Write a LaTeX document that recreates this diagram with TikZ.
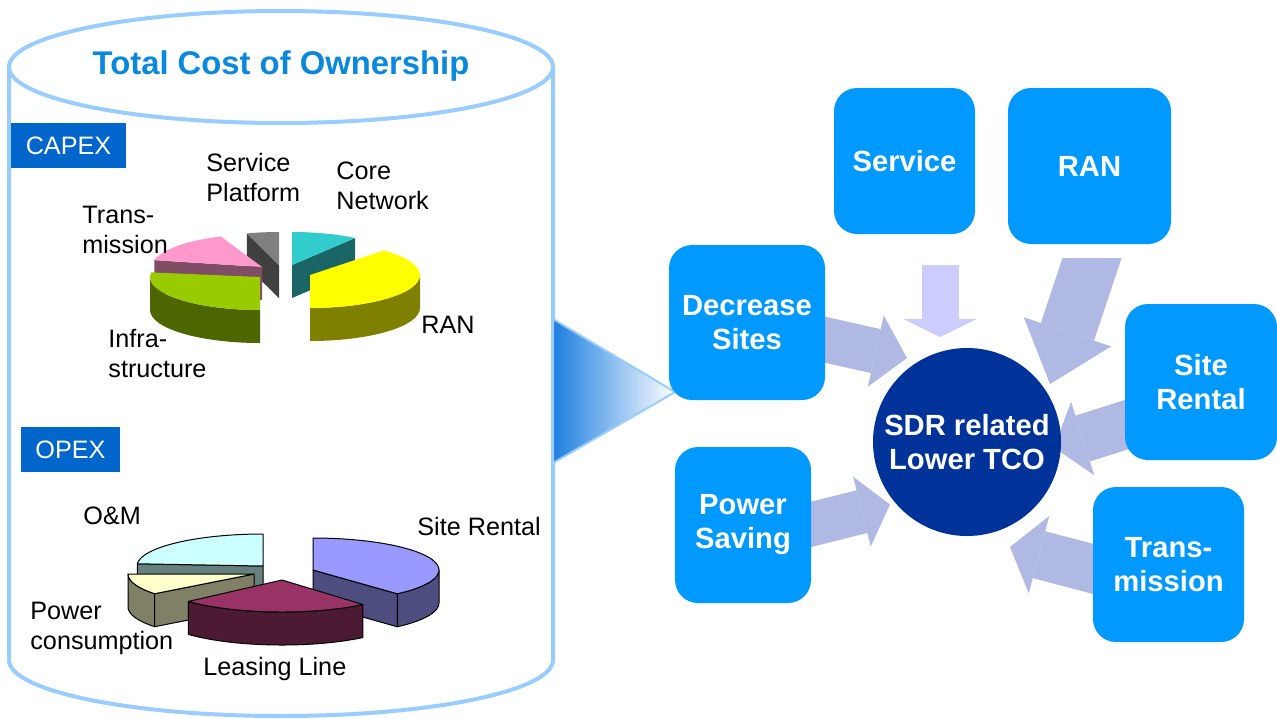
\documentclass[tikz,border=0pt]{standalone}
\usepackage{fontspec}
\setmainfont{Liberation Sans}
\usetikzlibrary{arrows.meta,calc,positioning}

\definecolor{cylline}{HTML}{99CCFF}
\definecolor{titleblue}{HTML}{0A88DD}
\definecolor{tagblue}{HTML}{0066CC}
\definecolor{boxblue}{HTML}{0099FF}
\definecolor{tcoblue}{HTML}{003399}
\definecolor{flowblue}{RGB}{176,184,228}
\definecolor{flowlight}{HTML}{CCCCFF}
\definecolor{shadeblue}{HTML}{1E7FE0}
% pie colours, top and side
\definecolor{svctop}{HTML}{808080}\definecolor{svcside}{HTML}{404040}
\definecolor{coretop}{HTML}{33CCCC}\definecolor{coreside}{HTML}{1A6666}
\definecolor{transtop}{HTML}{FF99CC}\definecolor{transside}{HTML}{804D66}
\definecolor{infratop}{HTML}{99CC00}\definecolor{infraside}{HTML}{4D6600}
\definecolor{rantop}{HTML}{FFFF00}\definecolor{ranside}{HTML}{808000}
\definecolor{omtop}{HTML}{CCFFFF}\definecolor{omside}{HTML}{668080}
\definecolor{powtop}{HTML}{FFFFCC}\definecolor{powside}{HTML}{808066}
\definecolor{sitetop}{HTML}{9999FF}\definecolor{siteside}{HTML}{4D4D80}
\definecolor{leasetop}{HTML}{993366}\definecolor{leaseside}{HTML}{4D1A33}

% 3d pie pieces: size, top face, outer wall, cut face
\newcommand{\piesize}[3]{\def\prx{#1}\def\pry{#2}\def\pdepth{#3}}
\newcommand{\pietop}[5]{\filldraw[fill=#4,#5] (#1) -- ++({\prx*cos(#2)},{\pry*sin(#2)})
  arc[start angle=#2,end angle=#3,x radius=\prx,y radius=\pry] -- cycle;}
\newcommand{\piewall}[5]{\filldraw[fill=#4,#5] ($(#1)+({\prx*cos(#2)},{\pry*sin(#2)})$)
  arc[start angle=#2,end angle=#3,x radius=\prx,y radius=\pry] -- ++(0,-\pdepth)
  arc[start angle=#3,end angle=#2,x radius=\prx,y radius=\pry] -- cycle;}
\newcommand{\pieface}[4]{\filldraw[fill=#3,#4] (#1) -- ++({\prx*cos(#2)},{\pry*sin(#2)})
  -- ++(0,-\pdepth) -- ($(#1)+(0,-\pdepth)$) -- cycle;}

\begin{document}
\begin{tikzpicture}[x=0.5pt, y=0.5pt,
  cyl/.style={draw=cylline, line width=2pt},
  lbl/.style={anchor=base west, align=left, inner sep=0, font=\fontsize{12.6}{15}\selectfont},
  tag/.style={fill=tagblue, text=white, inner sep=0, minimum height=22.5pt, font=\fontsize{12.6}{15}\selectfont},
  cause/.style={fill=boxblue, text=white, rounded corners=11.5pt, align=center, inner sep=0,
    font=\bfseries\fontsize{14.6}{17}\selectfont},
  hub/.style={circle, fill=tcoblue, text=white, minimum size=94pt, inner sep=0, align=center,
    font=\bfseries\fontsize{14.6}{17}\selectfont},
  flow/.style n args={3}{draw=flowblue, line width=#1, -{Triangle[width=#2, length=#3, line width=0pt]}},
  capedge/.style={draw=none},
  opedge/.style={draw=black, line width=0.5pt, line join=round}]

\useasboundingbox (0,0) rectangle (1277,-718);
\fill[white] (0,0) rectangle (1277,-718);

% cylinder
\draw[cyl] (9,-67) -- (9,-660) arc[start angle=180, end angle=360, x radius=272, y radius=56] -- (553,-67);
\draw[cyl] (281,-67) ellipse[x radius=272, y radius=56];
\node[anchor=base, inner sep=0, text=titleblue, font=\bfseries\fontsize{16.4}{19}\selectfont] (title) at (281,-74) {Total Cost of Ownership};

\node[tag, minimum width=57.5pt] (capex) at (68.5,-145.5) {CAPEX};
\node[tag, minimum width=49.5pt] (opex) at (70.5,-449.5) {OPEX};

% CAPEX pie
\piesize{110}{33}{33}
\pieface{279,-265}{107}{svcside}{capedge}
\pietop{279,-265}{90}{107}{svctop}{capedge}
\pieface{292,-265}{55}{coreside}{capedge}
\pietop{292,-265}{55}{90}{coretop}{capedge}
\pieface{262,-267}{168}{transside}{capedge}
\pietop{262,-267}{112}{168}{transtop}{capedge}
\piewall{260,-277}{180}{270}{infraside}{capedge}
\pietop{260,-277}{172}{270}{infratop}{capedge}
\piewall{310,-275}{270}{360}{ranside}{capedge}
\pietop{310,-275}{-90}{48}{rantop}{capedge}

% base anchor of a two line label sits on its last line
\node[lbl] (l-svc) at (206,-201.7) {Service\\Platform};
\node[lbl] (l-core) at (336,-209) {Core\\Network};
\node[lbl] (l-trans) at (82,-253) {Trans-\\mission};
\node[lbl] (l-infra) at (108,-377) {Infra-\\structure};
\node[lbl] (l-ran) at (421,-333) {RAN};

% OPEX pie
\piesize{126}{32}{33}
\pieface{263,-566}{176}{omside}{opedge}
\pietop{263,-566}{90}{176}{omtop}{opedge}
\piewall{254,-574}{180}{218}{powside}{opedge}
\pieface{254,-574}{218}{powside}{opedge}
\pietop{254,-574}{180}{218}{powtop}{opedge}
\piewall{313,-570}{312}{360}{siteside}{opedge}
\pieface{313,-570}{-48}{siteside}{opedge}
\pietop{313,-570}{-48}{90}{sitetop}{opedge}
\piewall{282,-580}{222}{310}{leaseside}{opedge}
\pietop{282,-580}{222}{310}{leasetop}{opedge}

\node[lbl] (l-om) at (83,-524) {O\&M};
\node[lbl] (l-site) at (417,-535) {Site Rental};
\node[lbl] (l-power) at (30,-649) {Power\\consumption};
\node[lbl] (l-lease) at (203,-675) {Leasing Line};

% pointer
\shadedraw[left color=shadeblue, right color=white, draw=cylline, line width=1pt]
  (553,-319) -- (675,-392) -- (553,-463) -- cycle;

% arrows into the hub
\coordinate (svc-in) at (940,-337);
\coordinate (ran-in) at (1050,-384);
\coordinate (dec-in) at (907,-358);
\coordinate (pow-in) at (890,-504.5);
\coordinate (site-in) at (1054,-447.5);
\coordinate (trans-in) at (1010,-547);

\draw[flow={18.5pt}{36.5pt}{9pt}, draw=flowlight] (940,-265) -- (svc-in);
\begin{scope}
  \clip (980,-258) rectangle (1140,-400);
  \draw[flow={28pt}{46pt}{27.5pt}] (1098.7,-238) -- (ran-in);
\end{scope}
\draw[flow={22.5pt}{36.5pt}{16pt}] (815,-337.5) -- (dec-in);
\draw[flow={22pt}{36pt}{14.5pt}] (800,-527.2) -- (pow-in);
\draw[flow={24pt}{38.5pt}{15pt}] (1135,-422) -- (site-in);
\draw[flow={24.25pt}{40pt}{15pt}] (1100,-570.75) -- (trans-in);

% boxes
\node[cause, minimum width=70.5pt, minimum height=73pt] (svc) at (904.5,-161) {Service};
\node[cause, minimum width=81.5pt, minimum height=78pt] (ran) at (1089.5,-166) {RAN};
\node[cause, minimum width=78pt, minimum height=77.5pt] (dec) at (747,-322.5) {Decrease\\Sites};
\node[cause, minimum width=76pt, minimum height=78pt] (site) at (1201,-382) {Site\\Rental};
\node[cause, minimum width=68pt, minimum height=78pt] (pow) at (743,-525) {Power\\Saving};
\node[cause, minimum width=75.5pt, minimum height=77.5pt] (trans) at (1168.5,-564.5) {Trans-\\mission};

\node[hub] (tco) at (967,-442) {SDR related\\Lower TCO};

\end{tikzpicture}
\end{document}
